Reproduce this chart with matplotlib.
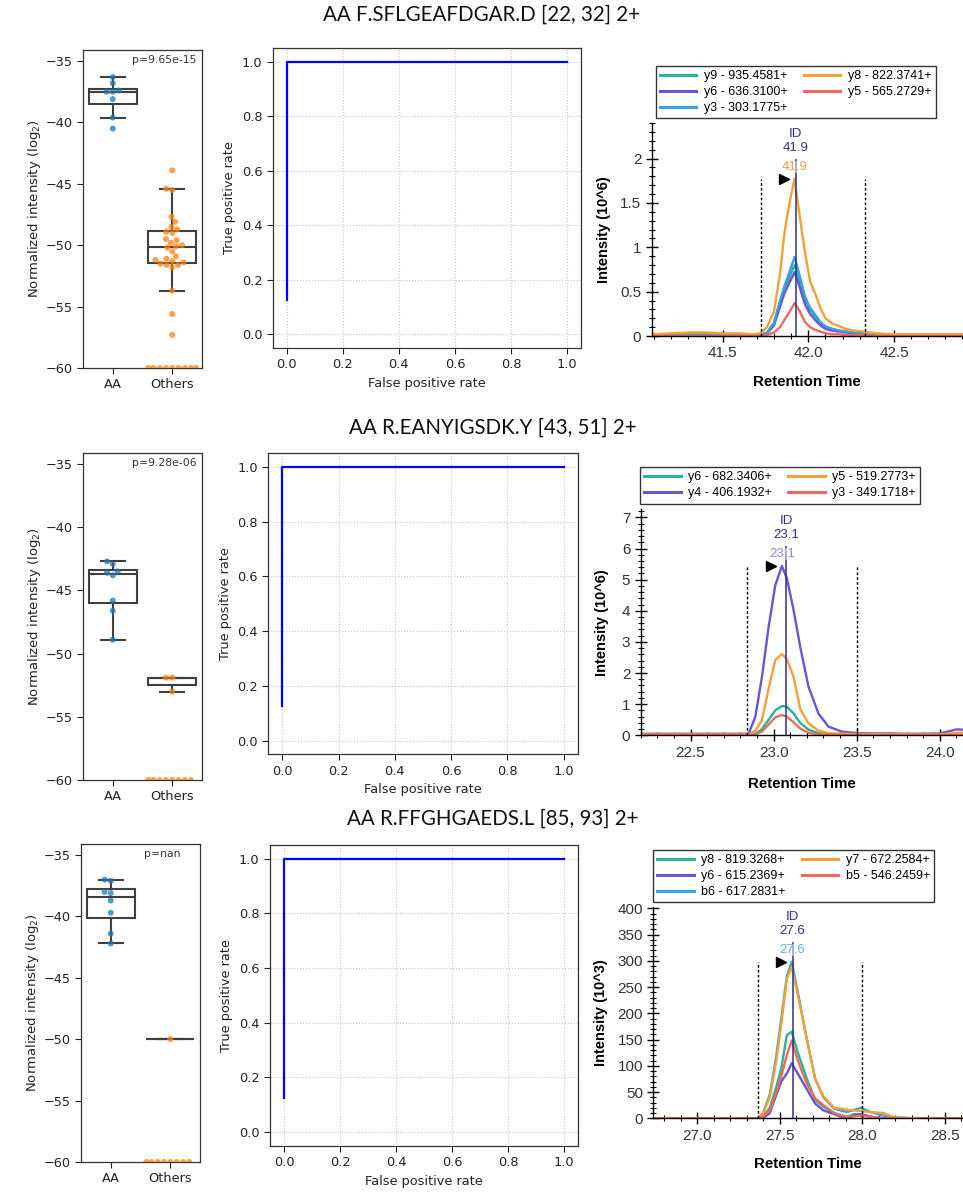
import numpy as np
import matplotlib
matplotlib.use('Agg')
import matplotlib.pyplot as plt
import seaborn as sns
import pandas as pd
from matplotlib.ticker import MultipleLocator, FuncFormatter, FormatStrFormatter
import matplotlib.transforms as mtransforms

# ---------------- data ----------------
titles = ["AA F.SFLGEAFDGAR.D [22, 32] 2+",
          "AA R.EANYIGSDK.Y [43, 51] 2+",
          "AA R.FFGHGAEDS.L [85, 93] 2+"]
groups = ["AA", "Others"]
missing_value = -60.0

aa_row1 = [-36.3, -36.8, -37.4, -37.5, -37.5, -38.1, -39.6, -40.5]
others_row1 = [-43.9, -45.4, -45.5, -47.7, -48.1, -48.5, -48.7, -48.9, -49.0,
               -49.5, -49.6, -49.8, -50.0, -50.1, -50.2, -50.5, -50.9, -51.1,
               -51.2, -51.3, -51.4, -51.5, -51.6, -51.6, -51.8, -53.7, -55.6, -57.3]
missing_row1 = 9

aa_row2 = [-42.7, -42.9, -43.5, -43.6, -43.8, -45.8, -46.6, -48.9]
others_row2 = [-51.9, -51.9, -53.0]
missing_row2 = 8

aa_row3 = [-37.0, -37.1, -38.0, -38.1, -38.7, -39.7, -41.4, -42.2]
others_row3 = [-50.0]
missing_row3 = 8

p_labels = ["p=9.65e-15", "p=9.28e-06", "p=nan"]

roc_fpr = [0.0, 0.0, 1.0]
roc_tpr = [0.125, 1.0, 1.0]

# chromatogram 1 (intensity 10^6)
chrom1_time = [41.10, 41.20, 41.30, 41.40, 41.50, 41.60, 41.68, 41.72, 41.76, 41.80, 41.835,
               41.86, 41.89, 41.92, 41.95, 41.98, 42.01, 42.04, 42.07, 42.10, 42.14, 42.18,
               42.22, 42.27, 42.32, 42.40, 42.50, 42.60, 42.70, 42.80, 42.90]
chrom1_y9 = [0.02, 0.02, 0.02, 0.02, 0.02, 0.02, 0.01, 0.01, 0.04, 0.15, 0.38, 0.53, 0.66, 0.80,
             0.62, 0.42, 0.30, 0.22, 0.15, 0.10, 0.08, 0.06, 0.05, 0.04, 0.03, 0.02, 0.02, 0.02,
             0.02, 0.02, 0.02]
chrom1_y6 = [0.01, 0.01, 0.01, 0.01, 0.01, 0.01, 0.01, 0.01, 0.03, 0.12, 0.33, 0.48, 0.60, 0.72,
             0.55, 0.36, 0.25, 0.18, 0.12, 0.08, 0.06, 0.05, 0.04, 0.03, 0.02, 0.01, 0.01, 0.01,
             0.01, 0.01, 0.01]
chrom1_y3 = [0.01, 0.01, 0.01, 0.01, 0.01, 0.01, 0.01, 0.01, 0.04, 0.15, 0.40, 0.56, 0.72, 0.89,
             0.68, 0.45, 0.32, 0.24, 0.16, 0.11, 0.08, 0.06, 0.05, 0.04, 0.03, 0.02, 0.02, 0.01,
             0.01, 0.01, 0.01]
chrom1_y8 = [0.02, 0.03, 0.04, 0.04, 0.03, 0.03, 0.02, 0.03, 0.10, 0.28, 0.70, 1.15, 1.50, 1.77,
             1.35, 0.95, 0.62, 0.48, 0.32, 0.20, 0.14, 0.11, 0.08, 0.06, 0.05, 0.03, 0.02, 0.02,
             0.02, 0.02, 0.02]
chrom1_y5 = [0.0, 0.0, 0.0, 0.0, 0.0, 0.0, 0.0, 0.0, 0.01, 0.04, 0.10, 0.18, 0.27, 0.37, 0.28,
             0.16, 0.10, 0.07, 0.05, 0.03, 0.02, 0.02, 0.01, 0.01, 0.01, 0.0, 0.0, 0.0, 0.0, 0.0, 0.0]
chrom1_labels = ["y9 - 935.4581+", "y6 - 636.3100+", "y3 - 303.1775+",
                 "y8 - 822.3741+", "y5 - 565.2729+"]
chrom1_bounds = [41.722, 42.332]
chrom1_id = 41.926
chrom1_id_text = "41.9"

# chromatogram 2 (intensity 10^6)
chrom2_time = [22.20, 22.35, 22.50, 22.65, 22.80, 22.85, 22.89, 22.93, 22.97, 23.01, 23.05,
               23.08, 23.12, 23.16, 23.21, 23.27, 23.33, 23.41, 23.50, 23.60, 23.70, 23.80,
               23.90, 24.00, 24.05, 24.10, 24.15]
chrom2_y6 = [0.02, 0.02, 0.02, 0.02, 0.02, 0.02, 0.05, 0.20, 0.50, 0.80, 0.94, 0.92, 0.70, 0.40,
             0.18, 0.07, 0.04, 0.03, 0.02, 0.02, 0.02, 0.02, 0.02, 0.02, 0.02, 0.02, 0.02]
chrom2_y4 = [0.05, 0.05, 0.05, 0.05, 0.05, 0.05, 0.60, 1.88, 3.48, 4.82, 5.44, 5.04, 4.03, 2.85,
             1.56, 0.70, 0.28, 0.12, 0.07, 0.06, 0.06, 0.05, 0.05, 0.06, 0.12, 0.19, 0.18]
chrom2_y5 = [0.03, 0.03, 0.03, 0.03, 0.03, 0.03, 0.15, 0.49, 1.50, 2.42, 2.61, 2.44, 1.88, 0.85,
             0.38, 0.15, 0.07, 0.05, 0.04, 0.04, 0.04, 0.04, 0.03, 0.03, 0.05, 0.08, 0.09]
chrom2_y3 = [0.01, 0.01, 0.01, 0.01, 0.01, 0.01, 0.03, 0.12, 0.35, 0.58, 0.65, 0.60, 0.42, 0.22,
             0.08, 0.03, 0.02, 0.01, 0.01, 0.01, 0.01, 0.01, 0.01, 0.01, 0.01, 0.01, 0.01]
chrom2_labels = ["y6 - 682.3406+", "y4 - 406.1932+", "y5 - 519.2773+", "y3 - 349.1718+"]
chrom2_bounds = [22.84, 23.50]
chrom2_id = 23.077
chrom2_id_text = "23.1"

# chromatogram 3 (intensity 10^3)
chrom3_time = [26.73, 26.90, 27.10, 27.30, 27.367, 27.40, 27.44, 27.48, 27.51, 27.543, 27.573,
               27.61, 27.665, 27.715, 27.765, 27.83, 27.88, 27.91, 27.95, 27.99, 28.05, 28.13,
               28.19, 28.30, 28.45, 28.61]
chrom3_y8 = [0, 0, 0, 0, 0, 3, 20, 60, 95, 158, 165, 125, 75, 35, 22, 10, 5, 3, 8, 8, 3, 0, 0, 0, 0, 0]
chrom3_y6 = [0, 0, 0, 0, 0, 0, 10, 45, 70, 85, 105, 85, 55, 28, 15, 8, 2, 0, 5, 8, 3, 0, 0, 0, 0, 0]
chrom3_b6 = [0, 0, 0, 0, 0, 10, 45, 120, 190, 270, 298, 240, 150, 75, 40, 18, 14, 12, 16, 20, 12, 5, 2, 0, 0, 0]
chrom3_y7 = [0, 0, 0, 0, 0, 10, 40, 110, 180, 265, 288, 235, 150, 75, 42, 20, 18, 16, 15, 14, 12, 10, 2, 0, 0, 0]
chrom3_b5 = [0, 0, 0, 0, 0, 3, 15, 50, 80, 120, 148, 110, 65, 38, 25, 10, 5, 3, 4, 5, 3, 0, 0, 0, 0, 0]
chrom3_labels = ["y8 - 819.3268+", "y6 - 615.2369+", "b6 - 617.2831+",
                 "y7 - 672.2584+", "b5 - 546.2459+"]
chrom3_bounds = [27.367, 28.0]
chrom3_id = 27.578
chrom3_id_text = "27.6"

# ---------------- styling ----------------
TEAL, PURPLE, BLUE, ORANGE, RED = '#26b597', '#6a55d2', '#3b9fe2', '#f5a033', '#f06a5c'
ID_COLOR = '#2e2e90'
SW_BLUE, SW_ORANGE = '#1f77b4', '#ff7f0e'
EDGE = '#3f3f3f'
ARIAL = 'Liberation Sans'

W, H = 963, 1193
fig = plt.figure(figsize=(W / 100, H / 100), dpi=100)


def px_axes(l, t, r, b):
    return fig.add_axes([l / W, 1 - b / H, (r - l) / W, (b - t) / H])


def draw_box(ax, aa, others, n_missing, plabel):
    ax.boxplot([aa, others], positions=[0, 1], widths=0.8, patch_artist=True,
               showfliers=False, whis=1.5, capwidths=0.4,
               boxprops=dict(facecolor='white', edgecolor=EDGE, linewidth=1.5),
               medianprops=dict(color=EDGE, linewidth=1.5),
               whiskerprops=dict(color=EDGE, linewidth=1.5),
               capprops=dict(color=EDGE, linewidth=1.5), zorder=1)
    vals = list(aa) + list(others) + [missing_value] * n_missing
    grp = ['AA'] * len(aa) + ['Others'] * (len(others) + n_missing)
    df = pd.DataFrame({'group': grp, 'value': vals})
    sns.swarmplot(data=df, x='group', y='value', hue='group', order=groups,
                  hue_order=groups, palette=[SW_BLUE, SW_ORANGE], size=4.3,
                  alpha=0.75, legend=False, ax=ax, zorder=3, linewidth=0)
    ax.set_xlim(-0.5, 1.5)
    ax.set_ylim(-60, -34.1)
    ax.set_yticks([-35, -40, -45, -50, -55, -60])
    ax.set_xticks([0, 1])
    ax.set_xticklabels(groups)
    ax.tick_params(labelsize=9.3, colors='#222222', length=4)
    ax.set_xlabel('')
    ax.set_ylabel('Normalized intensity (log$_2$)', fontsize=9.5, color='#222222')
    ax.yaxis.set_label_coords(-0.34, 0.5)
    for s in ax.spines.values():
        s.set_color('#333333')
        s.set_linewidth(0.9)
    ax.text(0.68, 0.968, plabel, transform=ax.transAxes, ha='center', va='center',
            fontsize=7.8, color='#333333')


def draw_roc(ax):
    ax.plot(roc_fpr, roc_tpr, color='#0000ff', lw=1.6)
    ax.set_xlim(-0.05, 1.05)
    ax.set_ylim(-0.05, 1.05)
    ax.set_xticks(np.arange(0, 1.01, 0.2))
    ax.set_yticks(np.arange(0, 1.01, 0.2))
    ax.xaxis.set_major_formatter(FormatStrFormatter('%.1f'))
    ax.yaxis.set_major_formatter(FormatStrFormatter('%.1f'))
    ax.grid(True, linestyle=':', color='#c8c8c8', lw=0.8)
    ax.tick_params(labelsize=9.3, colors='#222222', length=4)
    ax.set_xlabel('False positive rate', fontsize=9.3, color='#222222')
    ax.set_ylabel('True positive rate', fontsize=9.3, color='#222222')
    for s in ax.spines.values():
        s.set_color('#333333')
        s.set_linewidth(0.9)


def draw_chrom(ax, times, traces, labels, colors, xlim, ylim, ymaj, ymin, ylabel,
               bounds, id_time, id_text, peak_color, leg_pos, ylab_x):
    for tr, lab, c in zip(traces, labels, colors):
        ax.plot(times, tr, color=c, lw=1.7, label=lab, solid_joinstyle='round')
    ax.set_xlim(*xlim)
    ax.set_ylim(*ylim)
    for s in ['top', 'right']:
        ax.spines[s].set_visible(False)
    for s in ['left', 'bottom']:
        ax.spines[s].set_color('black')
        ax.spines[s].set_linewidth(1.0)
    ax.xaxis.set_major_locator(MultipleLocator(0.5))
    ax.xaxis.set_minor_locator(MultipleLocator(0.1))
    ax.xaxis.set_major_formatter(FormatStrFormatter('%.1f'))
    ax.yaxis.set_major_locator(MultipleLocator(ymaj))
    ax.yaxis.set_minor_locator(MultipleLocator(ymin))
    ax.yaxis.set_major_formatter(FuncFormatter(lambda v, p: '%g' % v))
    ax.tick_params(which='major', direction='inout', length=8, width=1.0,
                   labelsize=11, labelcolor='#333333')
    ax.tick_params(which='minor', direction='inout', length=4, width=0.8)
    for lab in ax.get_xticklabels() + ax.get_yticklabels():
        lab.set_family(ARIAL)
    ax.set_xlabel('Retention Time', fontsize=10.8, fontweight='bold', family=ARIAL)
    ax.xaxis.set_label_coords(0.5, -0.185)
    ax.set_ylabel(ylabel, fontsize=10.5, fontweight='bold', family=ARIAL)
    ax.yaxis.set_label_coords(ylab_x, 0.5)

    allmax = max(max(t) for t in traces)
    peak_trace = [t for t in traces if max(t) == allmax][0]
    apex_t = times[int(np.argmax(peak_trace))]
    for b in bounds:
        ax.plot([b, b], [0, allmax], color='black', lw=1.0, ls=(0, (2, 1.5)))
    disp = ax.transData.transform((id_time, allmax))
    top = ax.transData.inverted().transform((disp[0], disp[1] + 19))[1]
    ax.plot([id_time, id_time], [0, top], color=ID_COLOR, lw=1.3, alpha=0.85)
    ax.annotate(id_text, xy=(apex_t, allmax), xytext=(0, 8.6), textcoords='offset points',
                ha='center', va='center', fontsize=9.5, color=peak_color, family=ARIAL,
                bbox=dict(facecolor='white', edgecolor='none', alpha=0.5, pad=0.2))
    ax.annotate(id_text, xy=(id_time, allmax), xytext=(0, 22.3), textcoords='offset points',
                ha='center', va='center', fontsize=9.5, color=ID_COLOR, family=ARIAL)
    ax.annotate('ID', xy=(id_time, allmax), xytext=(0, 32.4), textcoords='offset points',
                ha='center', va='center', fontsize=9.5, color=ID_COLOR, family=ARIAL)
    tri = mtransforms.offset_copy(ax.transData, fig=fig, x=-7.5, y=0, units='points')
    ax.plot([apex_t], [allmax], marker='>', color='black', markersize=7, transform=tri,
            clip_on=False)
    leg = ax.legend(loc='upper left', bbox_to_anchor=(leg_pos[0] / W, 1 - leg_pos[1] / H),
                    bbox_transform=fig.transFigure, ncol=2, fontsize=9, frameon=True,
                    fancybox=False, edgecolor='black', handlelength=2.9, handletextpad=0.6,
                    columnspacing=1.3, borderpad=0.35, labelspacing=0.3, borderaxespad=0)
    leg.get_frame().set_linewidth(1.0)
    for ln in leg.get_lines():
        ln.set_linewidth(2.2)
    for t in leg.get_texts():
        t.set_family(ARIAL)


rows = [
    dict(box=(83, 50, 202, 368), roc=(272.7, 48, 581, 348), chrom=(651.7, 123, 963, 336),
         aa=aa_row1, oth=others_row1, miss=missing_row1, title_xy=(481, 15)),
    dict(box=(83, 452.7, 202, 780), roc=(268.3, 453.3, 577.7, 754.3),
         chrom=(640.7, 509.3, 963, 735.3),
         aa=aa_row2, oth=others_row2, miss=missing_row2, title_xy=(493, 428)),
    dict(box=(81, 844, 200, 1162), roc=(270, 845, 578.3, 1145.7),
         chrom=(653.3, 906.7, 963, 1118.3),
         aa=aa_row3, oth=others_row3, miss=missing_row3, title_xy=(493, 819)),
]

for i, r in enumerate(rows):
    fig.text(r['title_xy'][0] / W, 1 - r['title_xy'][1] / H, titles[i], ha='center',
             va='center', fontsize=14.8, family='Lato', color='#111111')
    axb = px_axes(*r['box'])
    draw_box(axb, r['aa'], r['oth'], r['miss'], p_labels[i])
    axr = px_axes(*r['roc'])
    draw_roc(axr)

axc1 = px_axes(*rows[0]['chrom'])
draw_chrom(axc1, chrom1_time, [chrom1_y9, chrom1_y6, chrom1_y3, chrom1_y8, chrom1_y5],
           chrom1_labels, [TEAL, PURPLE, BLUE, ORANGE, RED], (41.086, 42.903), (0, 2.4),
           0.5, 0.1, 'Intensity (10^6)', chrom1_bounds, chrom1_id, chrom1_id_text,
           '#f5a040', (655.7, 66), -0.13)

axc2 = px_axes(*rows[1]['chrom'])
draw_chrom(axc2, chrom2_time, [chrom2_y6, chrom2_y4, chrom2_y5, chrom2_y3],
           chrom2_labels, [TEAL, PURPLE, ORANGE, RED], (22.2, 24.14), (0, 7.26),
           1, 0.2, 'Intensity (10^6)', chrom2_bounds, chrom2_id, chrom2_id_text,
           '#8f84e8', (640, 467), -0.097)

axc3 = px_axes(*rows[2]['chrom'])
draw_chrom(axc3, chrom3_time, [chrom3_y8, chrom3_y6, chrom3_b6, chrom3_y7, chrom3_b5],
           chrom3_labels, [TEAL, PURPLE, BLUE, ORANGE, RED], (26.735, 28.61), (0, 403),
           50, 10, 'Intensity (10^3)', chrom3_bounds, chrom3_id, chrom3_id_text,
           '#60b4ec', (653, 850), -0.147)

fig.savefig('out.png', dpi=100)
